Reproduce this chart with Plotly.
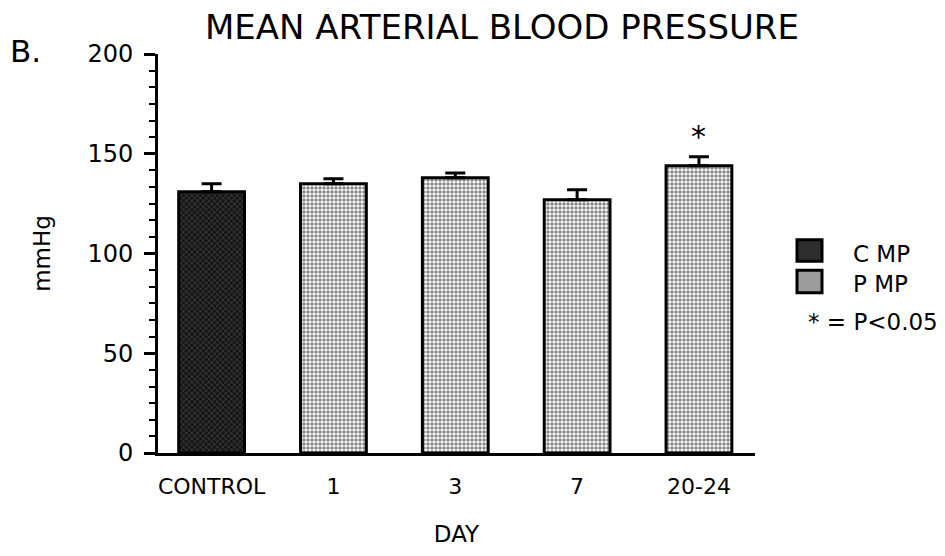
import plotly.graph_objects as go

categories = ["CONTROL", "1", "3", "7", "20-24"]
groups = ["C MP", "P MP", "P MP", "P MP", "P MP"]
values = [131, 135, 138, 127, 144]
errors = [4, 2.5, 2.3, 5, 4.5]
significant = [False, False, False, False, True]
legend_names = ["C MP", "P MP"]
note_text = "* = P<0.05"
title_text = "MEAN ARTERIAL BLOOD PRESSURE"
panel_label = "B."
y_ticks = [0, 50, 100, 150, 200]

W, H = 945, 556
L, R, T, B = 158, 190, 54, 96
FONT = "DejaVu Sans"

styles = {
    "C MP": dict(bg="#161616", fg="#8c8c8c", shape="x", size=4, solidity=0.25, swatch="#2e2e2e"),
    "P MP": dict(bg="#ffffff", fg="#111111", shape=".", size=4, solidity=0.6, swatch="#9c9c9c"),
}

def px2paper(px, py):
    return (px - L) / (W - L - R), (H - B - py) / (H - T - B)

fig = go.Figure()
for g in legend_names:
    idx = [i for i, gg in enumerate(groups) if gg == g]
    st = styles[g]
    fig.add_trace(go.Bar(
        x=[categories[i] for i in idx],
        y=[values[i] for i in idx],
        name=g,
        width=0.54,
        marker=dict(
            color=st["bg"],
            line=dict(color="black", width=3),
            pattern=dict(shape=st["shape"], fgcolor=st["fg"], bgcolor=st["bg"],
                         size=st["size"], solidity=st["solidity"], fillmode="overlay"),
        ),
        error_y=dict(type="data", symmetric=False, array=[errors[i] for i in idx],
                     arrayminus=[0] * len(idx), color="black", thickness=3, width=10),
        showlegend=False,
    ))

annotations = []
for i, s in enumerate(significant):
    if s:
        annotations.append(dict(x=categories[i], y=values[i] + errors[i], xref="x", yref="y",
                                text="*", showarrow=False, yshift=20,
                                font=dict(family=FONT, size=30, color="black")))

# title and panel label
tx, ty = px2paper(502, 27)
annotations.append(dict(x=tx, y=ty, xref="paper", yref="paper", text=title_text, showarrow=False,
                        xanchor="center", yanchor="middle", font=dict(family=FONT, size=34, color="black")))
bx, by = px2paper(8, 51)
annotations.append(dict(x=bx, y=by, xref="paper", yref="paper", text=panel_label, showarrow=False,
                        xanchor="left", yanchor="middle", font=dict(family=FONT, size=31, color="black")))

# legend (drawn)
shapes = []
rows = [(243, 265, 258), (274, 297, 288)]
for name, (y0p, y1p, yc) in zip(legend_names, rows):
    x0, y0 = px2paper(797, y1p)
    x1, y1 = px2paper(822, y0p)
    shapes.append(dict(type="rect", xref="paper", yref="paper", x0=x0, y0=y0, x1=x1, y1=y1,
                       fillcolor=styles[name]["swatch"], line=dict(color="black", width=3)))
    lx, ly = px2paper(851, yc)
    annotations.append(dict(x=lx, y=ly, xref="paper", yref="paper", text=name, showarrow=False,
                            xanchor="left", yanchor="middle", font=dict(family=FONT, size=23, color="black")))
nx, ny = px2paper(806, 327)
annotations.append(dict(x=nx, y=ny, xref="paper", yref="paper", text=note_text, showarrow=False,
                        xanchor="left", yanchor="middle", font=dict(family=FONT, size=23, color="black")))

fig.update_layout(
    width=W, height=H,
    margin=dict(l=L, r=R, t=T, b=B),
    paper_bgcolor="white", plot_bgcolor="white",
    font=dict(family=FONT, size=23, color="black"),
    bargap=0.46,
    annotations=annotations,
    shapes=shapes,
    showlegend=False,
)
fig.update_xaxes(
    type="category", categoryorder="array", categoryarray=categories,
    range=[-0.44, 4.46],
    showline=True, linecolor="black", linewidth=3,
    ticks="", showgrid=False, zeroline=False,
    tickfont=dict(family=FONT, size=22),
    ticklabelstandoff=12,
    title=dict(text="DAY", font=dict(family=FONT, size=23), standoff=28),
)
fig.update_yaxes(
    range=[0, 200], tickvals=y_ticks,
    showline=True, linecolor="black", linewidth=3,
    ticks="outside", ticklen=11, tickwidth=3, tickcolor="black",
    minor=dict(dtick=50 / 6, tick0=0, ticks="outside", ticklen=6, tickwidth=2, tickcolor="black", showgrid=False),
    showgrid=False, zeroline=False,
    tickfont=dict(family=FONT, size=24),
    ticklabelstandoff=6,
    title=dict(text="mmHg", font=dict(family=FONT, size=23), standoff=31),
)

fig.write_html("out.html", config={"displayModeBar": False},
               post_script="document.body.style.margin='0';document.body.style.overflow='hidden';")
